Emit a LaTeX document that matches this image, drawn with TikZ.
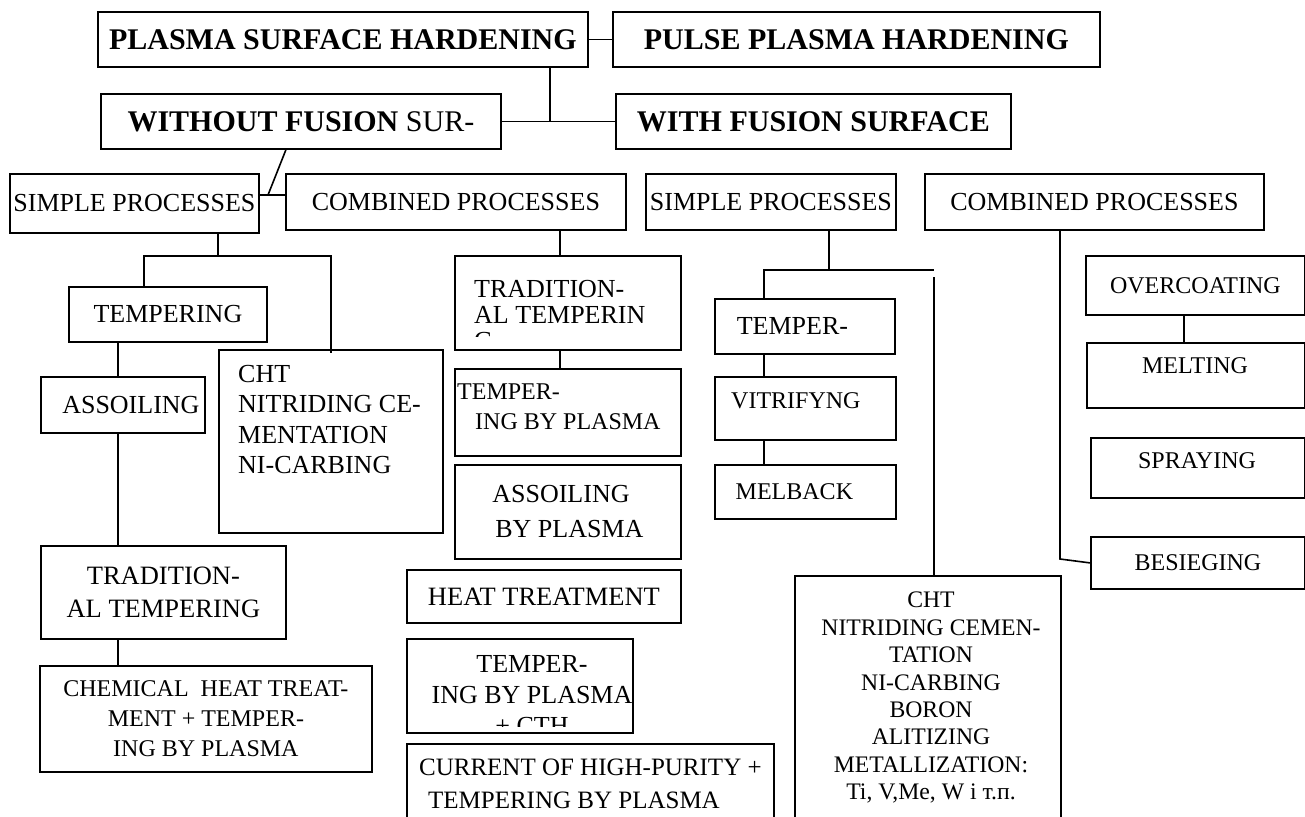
\documentclass[tikz,border=0pt]{standalone}
\usepackage{fontspec}
\setmainfont{Liberation Serif}

\begin{document}
\begin{tikzpicture}[x=1pt,y=-1pt,
    box/.style={draw,line width=1.8pt,anchor=north west,inner sep=0pt,align=center,font=\fontsize{26}{31}\selectfont},
    head/.style={box,font=\fontsize{30}{34}\selectfont},
    small/.style={font=\fontsize{24}{29}\selectfont},
    txt/.style={inner sep=0pt,font=\fontsize{26}{31}\selectfont},
    link/.style={line width=1.6pt}]
    \useasboundingbox (0,0) rectangle (1305,816);
    % top levels
    \node[head,minimum width=490pt,minimum height=55pt] (psh)    at (97,11)  {\bfseries PLASMA SURFACE HARDENING};
    \node[head,minimum width=487pt,minimum height=55pt] (pulse)  at (612,11) {\bfseries PULSE PLASMA HARDENING};
    \node[head,minimum width=400pt,minimum height=55pt] (nofuse) at (100,93) {{\bfseries WITHOUT FUSION} SUR-};
    \node[head,minimum width=395pt,minimum height=55pt] (fuse)   at (615,93) {\bfseries WITH FUSION SURFACE};
    % process kinds
    \node[box,minimum width=249pt,minimum height=59pt] (simpleA) at (9,173)   {SIMPLE PROCESSES};
    \node[box,minimum width=340pt,minimum height=56pt] (combA)   at (285,173) {COMBINED PROCESSES};
    \node[box,minimum width=250pt,minimum height=56pt] (simpleB) at (645,173) {SIMPLE PROCESSES};
    \node[box,minimum width=339pt,minimum height=56pt] (combB)   at (924,173) {COMBINED PROCESSES};
    % without fusion, simple
    \node[box,minimum width=198pt,minimum height=55pt] (temperA) at (68,286) {TEMPERING};
    \node[box,minimum width=164pt,minimum height=56pt] (assoil)  at (40,376) {\hspace*{16pt}ASSOILING};
    \node[box,minimum width=224pt,minimum height=183pt] (chtA)   at (218,349) {};
    \node[txt,anchor=north west,align=left,font=\fontsize{26}{30.3}\selectfont] (chtA-t) at (238,365)
        {CHT\\NITRIDING CE-\\MENTATION\\NI-CARBING};
    \node[box,minimum width=245pt,minimum height=93pt,font=\fontsize{26.5}{33}\selectfont] (tradA) at (40,545)
        {TRADITION-\\AL TEMPERING};
    \node[box,minimum width=332pt,minimum height=106pt,font=\fontsize{24}{30}\selectfont] (chem) at (39,665)
        {CHEMICAL\ \ HEAT TREAT-\\MENT + TEMPER-\\ING BY PLASMA};
    % without fusion, combined
    \node[box,minimum width=226pt,minimum height=94pt] (tradB)   at (454,255) {};
    \node[box,minimum width=226pt,minimum height=87pt] (plasmaA) at (454,368) {};
    \node[txt,anchor=north west,align=left,font=\fontsize{24}{30}\selectfont] (plasmaA-t) at (457,384)
        {TEMPER-\\\hspace*{18pt}ING BY PLASMA};
    \node[box,minimum width=226pt,minimum height=94pt,align=left,font=\fontsize{26}{35}\selectfont] (assoilB) at (454,464)
        {ASSOILING\\\hspace*{3pt}BY PLASMA};
    \node[box,minimum width=274pt,minimum height=53pt,font=\fontsize{26.5}{31}\selectfont] (heat) at (406,569) {HEAT TREATMENT};
    \node[box,minimum width=226pt,minimum height=94pt] (plasmaB) at (406,638) {};
    \node[box,minimum width=367pt,minimum height=79pt,align=left,font=\fontsize{25}{33}\selectfont] (current) at (406,743)
        {CURRENT OF HIGH-PURITY +\\\hspace*{9pt}TEMPERING BY PLASMA};
    \begin{scope}
        \clip (tradB.north west) rectangle ([yshift=14pt]tradB.south east);
        \node[txt,anchor=north west,align=left,font=\fontsize{26}{26}\selectfont] (tradB-t) at (474,280)
            {TRADITION-\\AL TEMPERIN\\G};
    \end{scope}
    \begin{scope}
        \clip (plasmaB.north west) rectangle ([yshift=7pt]plasmaB.south east);
        \node[txt,anchor=north,align=center] (plasmaB-t) at (532,655) {TEMPER-\\ING BY PLASMA\\+ CTH};
    \end{scope}
    % with fusion, simple
    \node[box,minimum width=180pt,minimum height=55pt] (temperB) at (714,298) {TEMPER-\hspace*{25pt}};
    \node[box,minimum width=181pt,minimum height=63pt] (vitrify) at (714,376) {};
    \node[txt,small,anchor=base west] (vitrify-t) at (731,408) {VITRIFYNG};
    \node[box,small,minimum width=181pt,minimum height=54pt] (melback) at (714,464) {MELBACK\hspace*{22pt}};
    \node[box,minimum width=266pt,minimum height=260pt] (chtB) at (794,575) {};
    \node[txt,anchor=north,align=center,font=\fontsize{23.7}{27.4}\selectfont] (chtB-t) at (931,592)
        {CHT\\NITRIDING CEMEN-\\TATION\\NI-CARBING\\BORON\\ALITIZING\\METALLIZATION:\\Ti, V,Me, W i т.п.};
    % with fusion, combined
    \node[box,small,minimum width=219pt,minimum height=59pt] (overcoat) at (1085,255) {OVERCOATING};
    \node[box,minimum width=218pt,minimum height=65pt] (melt)  at (1086,342) {};
    \node[txt,small,anchor=base] (melt-t) at (1195,373) {MELTING};
    \node[box,minimum width=214pt,minimum height=60pt] (spray) at (1090,437) {};
    \node[txt,small,anchor=base] (spray-t) at (1197,468) {SPRAYING};
    \node[box,small,minimum width=214pt,minimum height=52pt] (siege) at (1090,536) {BESIEGING};
    % junctions
    \coordinate (j1) at (550,121);
    \coordinate (j2) at (268,195);
    \coordinate (j3) at (218,256);
    \coordinate (j4) at (829,270);
    \coordinate (j5) at (934,277);
    \coordinate (j6) at (1060,559);
    \coordinate (c1) at (118,0);
    \coordinate (c2) at (560,0);
    \coordinate (c3) at (764,0);
    \coordinate (c4) at (1184,0);
    % top links
    \draw[link] (psh.east) -- (pulse.west);
    \draw[link] (psh.south -| j1) -- (j1);
    \draw[link] (nofuse.east) -- (fuse.west);
    \draw[link] ([xshift=-15pt]nofuse.south) -- (j2);
    \draw[link] (j2 -| simpleA.east) -- (j2 -| combA.west);
    % left links
    \draw[link] (simpleA.south -| j3) -- (j3);
    \draw[link] ([xshift=-24pt]temperA.north) |- (j3) -| ([yshift=-4pt]chtA.north);
    \draw[link] (temperA.south -| c1) -- (assoil.north -| c1);
    \draw[link] (assoil.south -| c1) -- (tradA.north -| c1);
    \draw[link] (tradA.south -| c1) -- (chem.north -| c1);
    \draw[link] (combA.south -| c2) -- (tradB.north -| c2);
    \draw[link] (tradB.south -| c2) -- (plasmaA.north -| c2);
    % right links
    \draw[link] (simpleB.south -| j4) -- (j4);
    \draw[link] (temperB.north -| c3) |- (j4) -- (j4 -| j5);
    \draw[link] (j5) -- (chtB.north -| j5);
    \draw[link] (temperB.south -| c3) -- (vitrify.north -| c3);
    \draw[link] (vitrify.south -| c3) -- (melback.north -| c3);
    \draw[link] (combB.south -| j6) -- (j6) -- (siege.west);
    \draw[link] (overcoat.south -| c4) -- (melt.north -| c4);
\end{tikzpicture}
\end{document}
